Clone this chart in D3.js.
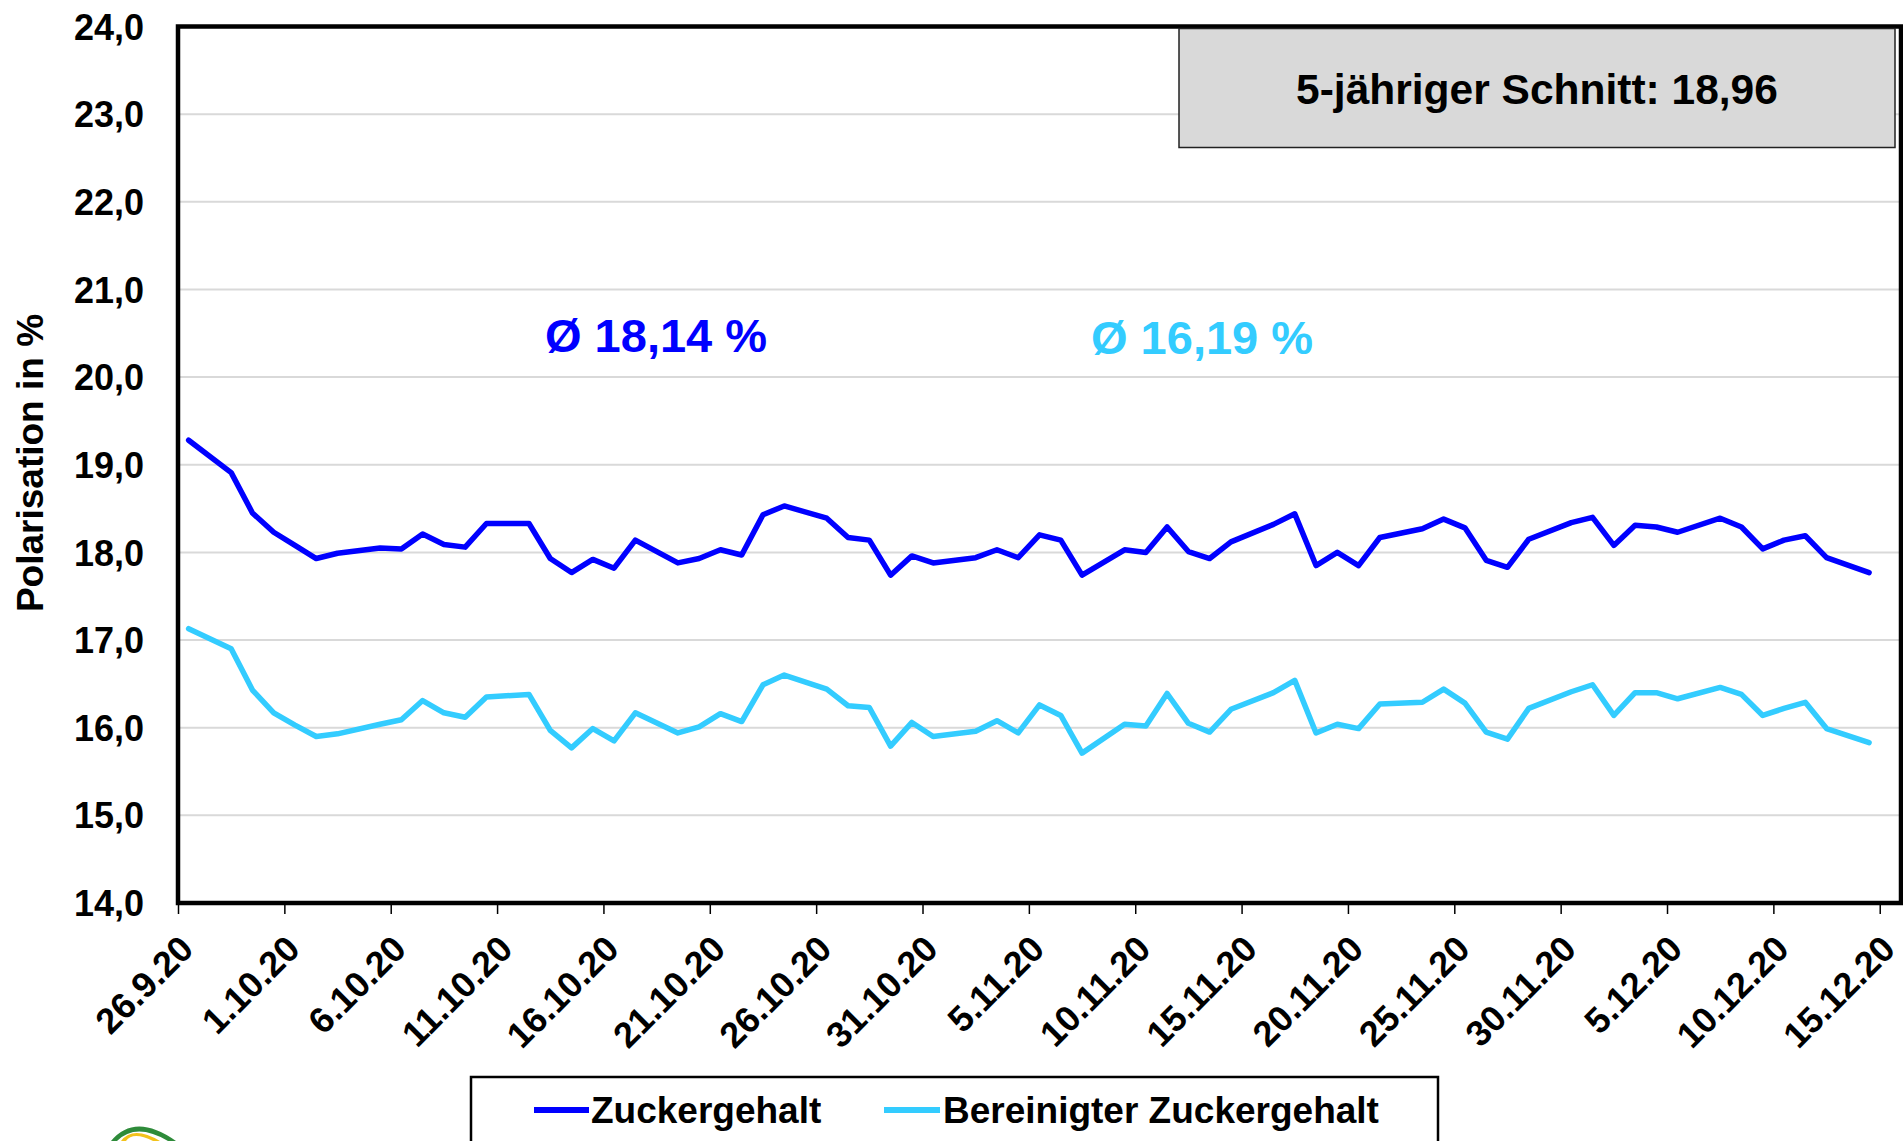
<!DOCTYPE html>
<html lang="de">
<head>
<meta charset="UTF-8">
<title>Polarisation</title>
<script src="https://cdn.jsdelivr.net/npm/d3@7"></script>
<style>
  body { margin: 0; background: #fff; }
  text { font-family: "Liberation Sans", Arial, sans-serif; font-weight: bold; }
</style>
</head>
<body>
<div id="chart"></div>
<script>
// days with values (Sundays have no value)
var dates = ["26.9.20","28.9.20","29.9.20","30.9.20","1.10.20","2.10.20","3.10.20",
  "5.10.20","6.10.20","7.10.20","8.10.20","9.10.20","10.10.20",
  "12.10.20","13.10.20","14.10.20","15.10.20","16.10.20","17.10.20",
  "19.10.20","20.10.20","21.10.20","22.10.20","23.10.20","24.10.20",
  "26.10.20","27.10.20","28.10.20","29.10.20","30.10.20","31.10.20",
  "2.11.20","3.11.20","4.11.20","5.11.20","6.11.20","7.11.20",
  "9.11.20","10.11.20","11.11.20","12.11.20","13.11.20","14.11.20",
  "16.11.20","17.11.20","18.11.20","19.11.20","20.11.20","21.11.20",
  "23.11.20","24.11.20","25.11.20","26.11.20","27.11.20","28.11.20",
  "30.11.20","1.12.20","2.12.20","3.12.20","4.12.20","5.12.20",
  "7.12.20","8.12.20","9.12.20","10.12.20","11.12.20","12.12.20",
  "14.12.20"];

var zuckergehalt = [19.28,18.91,18.45,18.23,18.08,17.93,17.99,
  18.05,18.04,18.21,18.09,18.06,18.33,
  18.33,17.93,17.77,17.92,17.82,18.14,
  17.88,17.93,18.03,17.97,18.43,18.53,
  18.39,18.17,18.14,17.74,17.96,17.88,
  17.94,18.03,17.94,18.20,18.14,17.74,
  18.03,18.00,18.29,18.01,17.93,18.12,
  18.32,18.44,17.85,18.00,17.85,18.17,
  18.27,18.38,18.28,17.91,17.83,18.15,
  18.34,18.40,18.08,18.31,18.29,18.23,
  18.39,18.29,18.04,18.14,18.19,17.94,
  17.77];

var bereinigt = [17.13,16.90,16.43,16.17,16.03,15.90,15.93,
  16.04,16.09,16.31,16.17,16.12,16.35,
  16.38,15.97,15.77,15.99,15.85,16.17,
  15.94,16.01,16.16,16.07,16.49,16.60,
  16.44,16.25,16.23,15.79,16.06,15.90,
  15.96,16.08,15.94,16.26,16.14,15.71,
  16.04,16.02,16.39,16.05,15.95,16.21,
  16.40,16.54,15.94,16.04,15.99,16.27,
  16.29,16.44,16.28,15.95,15.87,16.22,
  16.41,16.49,16.14,16.40,16.40,16.33,
  16.46,16.38,16.14,16.22,16.29,15.99,
  15.83];

var tickLabels = ["26.9.20","1.10.20","6.10.20","11.10.20","16.10.20","21.10.20",
  "26.10.20","31.10.20","5.11.20","10.11.20","15.11.20","20.11.20","25.11.20",
  "30.11.20","5.12.20","10.12.20","15.12.20"];
var yTicks = [14,15,16,17,18,19,20,21,22,23,24];

var seriesNames = ["Zuckergehalt", "Bereinigter Zuckergehalt"];
var seriesColors = ["#0000FF", "#33CCFF"];
var avgLabels = ["Ø 18,14 %", "Ø 16,19 %"];
var boxText = "5-jähriger Schnitt: 18,96";

var W = 1903, H = 1141;
var plotL = 178, plotR = 1901, plotT = 26.5, plotB = 903;

var parse = d3.utcParse("%d.%m.%y");
var x = d3.scaleUtc()
    .domain([parse("26.9.20"), d3.utcDay.offset(parse("15.12.20"), 1)])
    .range([plotL, plotR]);
var y = d3.scaleLinear().domain([14, 24]).range([plotB, plotT]);

var svg = d3.select("#chart").append("svg")
    .attr("width", W).attr("height", H);

// gridlines
svg.append("g").selectAll("line")
    .data(yTicks.slice(1, -1))
    .enter().append("line")
    .attr("x1", plotL).attr("x2", plotR)
    .attr("y1", function(d) { return y(d); })
    .attr("y2", function(d) { return y(d); })
    .attr("stroke", "#D9D9D9").attr("stroke-width", 2);

// y labels
var yAxis = svg.append("g")
    .attr("transform", "translate(" + plotL + ",0)")
    .call(d3.axisLeft(y).tickValues(yTicks).tickSize(0).tickPadding(34)
      .tickFormat(function(d) { return d3.format(".1f")(d).replace(".", ","); }));
yAxis.select(".domain").remove();
yAxis.selectAll("text")
    .attr("font-size", 36).attr("fill", "#000")
    .attr("dy", "0.35em")
    .style("font-family", "'Liberation Sans', Arial, sans-serif")
    .style("font-weight", "bold");

// x axis ticks and labels
var tickDates = tickLabels.map(parse);
var xAxis = svg.append("g")
    .attr("transform", "translate(0," + plotB + ")")
    .call(d3.axisBottom(x).tickValues(tickDates).tickSize(11)
      .tickFormat(function(d, i) { return tickLabels[i]; }));
xAxis.select(".domain").remove();
xAxis.selectAll("line").attr("stroke", "#000").attr("stroke-width", 1.5);
xAxis.selectAll("text")
    .attr("font-size", 36).attr("fill", "#000")
    .attr("text-anchor", "end")
    .attr("x", 0).attr("y", 0).attr("dy", 0)
    .attr("transform", "translate(17,48) rotate(-45)")
    .style("font-family", "'Liberation Sans', Arial, sans-serif")
    .style("font-weight", "bold");

// lines
var rows = dates.map(function(d, i) {
  return { date: d3.utcHour.offset(parse(d), 12), v: [zuckergehalt[i], bereinigt[i]] };
});
[0, 1].forEach(function(k) {
  var line = d3.line()
      .x(function(d) { return x(d.date); })
      .y(function(d) { return y(d.v[k]); });
  svg.append("path")
      .datum(rows)
      .attr("d", line)
      .attr("fill", "none")
      .attr("stroke", seriesColors[k])
      .attr("stroke-width", 5.5)
      .attr("stroke-linejoin", "round")
      .attr("stroke-linecap", "round");
});

// plot border
svg.append("rect")
    .attr("x", plotL).attr("y", plotT)
    .attr("width", plotR - plotL).attr("height", plotB - plotT)
    .attr("fill", "none").attr("stroke", "#000").attr("stroke-width", 4.5);

// y title
svg.append("text")
    .attr("transform", "translate(43,463) rotate(-90)")
    .attr("text-anchor", "middle")
    .attr("font-size", 37)
    .text("Polarisation in %");

// averages
svg.append("text").attr("x", 545).attr("y", 352)
    .attr("font-size", 47).attr("fill", seriesColors[0]).text(avgLabels[0]);
svg.append("text").attr("x", 1091).attr("y", 354)
    .attr("font-size", 47).attr("fill", seriesColors[1]).text(avgLabels[1]);

// 5-year box
svg.append("rect")
    .attr("x", 1179).attr("y", 28.5).attr("width", 716).attr("height", 119)
    .attr("fill", "#D9D9D9").attr("stroke", "#222").attr("stroke-width", 1.5);
svg.append("text").attr("x", 1537).attr("y", 104)
    .attr("text-anchor", "middle").attr("font-size", 42.5).text(boxText);

// legend
svg.append("rect")
    .attr("x", 471).attr("y", 1077).attr("width", 967).attr("height", 100)
    .attr("fill", "#fff").attr("stroke", "#000").attr("stroke-width", 2.5);
var legX = [[534, 589, 591], [884, 940, 943]];
seriesNames.forEach(function(name, k) {
  svg.append("line")
      .attr("x1", legX[k][0]).attr("x2", legX[k][1])
      .attr("y1", 1110).attr("y2", 1110)
      .attr("stroke", seriesColors[k]).attr("stroke-width", 6);
  svg.append("text").attr("x", legX[k][2]).attr("y", 1123)
      .attr("font-size", 37).text(name);
});

// logo fragment
svg.append("path")
    .attr("d", "M111,1141 Q135,1112 176,1141 L168,1141 Q136,1122 117,1141 Z")
    .attr("fill", "#2E8B3A");
svg.append("path")
    .attr("d", "M121,1141 Q133,1125 160,1141 L153,1141 Q133,1131 126,1141 Z")
    .attr("fill", "#F2C21B");
</script>
</body>
</html>
